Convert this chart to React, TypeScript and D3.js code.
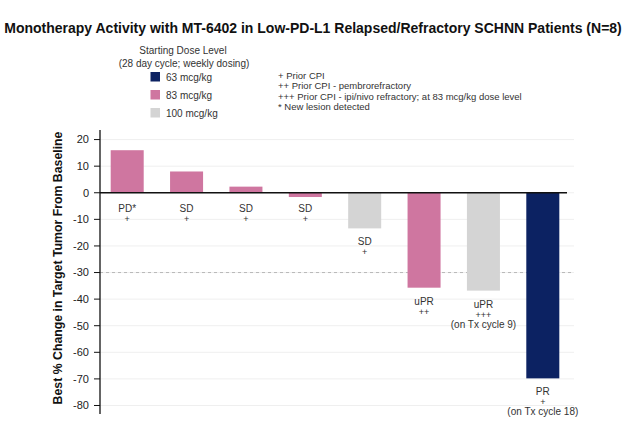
import React from 'react';
import * as d3 from 'd3';

// values
const patients = ['P1', 'P2', 'P3', 'P4', 'P5', 'P6', 'P7', 'P8'];
const bestChange = [16, 8, 2.3, -1.6, -13.4, -35.7, -36.8, -69.8];
const doseLevel = ['83 mcg/kg', '83 mcg/kg', '83 mcg/kg', '83 mcg/kg', '100 mcg/kg', '83 mcg/kg', '100 mcg/kg', '63 mcg/kg'];
const response = ['PD*', 'SD', 'SD', 'SD', 'SD', 'uPR', 'uPR', 'PR'];
const priorCpi = ['+', '+', '+', '+', '+', '++', '+++', '+'];
const cycleNote = ['', '', '', '', '', '', '(on Tx cycle 9)', '(on Tx cycle 18)'];

const yTicks = [20, 10, 0, -10, -20, -30, -40, -50, -60, -70, -80];
const threshold = -30;

const legendDoses = ['63 mcg/kg', '83 mcg/kg', '100 mcg/kg'];
const legendColors = ['#0c2262', '#cf76a0', '#d4d4d4'];
const footnotes = [
  '+ Prior CPI',
  '++ Prior CPI - pembrorefractory',
  '+++ Prior CPI - ipi/nivo refractory; at 83 mcg/kg dose level',
  '* New lesion detected',
];

const W = 624;
const H = 424;
const font = 'Arial, "Liberation Sans", sans-serif';

const App: React.FC = () => {
  const x = d3.scaleBand<string>()
    .domain(patients)
    .range([100, 570])
    .paddingInner(0.444)
    .paddingOuter(0.18);

  const y = d3.scaleLinear().domain([-83.2, 23.6]).range([414, 130]);

  const color = d3.scaleOrdinal<string, string>().domain(legendDoses).range(legendColors);

  const y0 = y(0);

  return (
    <div style={{ position: 'absolute', left: 0, top: 0 }}>
      <svg width={W} height={H} style={{ display: 'block', background: '#fff' }} fontFamily={font}>
        <text x={W / 2 + 1} y={33} textAnchor="middle" fontSize={14} fontWeight="bold" fill="#111">
          Monotherapy Activity with MT-6402 in Low-PD-L1 Relapsed/Refractory SCHNN Patients (N=8)
        </text>

        {/* legend */}
        <text x={183} y={54} textAnchor="middle" fontSize={10} fill="#333">Starting Dose Level</text>
        <text x={184} y={67} textAnchor="middle" fontSize={10} fill="#333">(28 day cycle; weekly dosing)</text>
        {legendDoses.map((d, i) => (
          <g key={d} transform={`translate(150.5, ${72 + i * 18})`}>
            <rect width={9.5} height={9.5} fill={color(d)} />
            <text x={15.5} y={8.5} fontSize={10} fill="#333">{d}</text>
          </g>
        ))}
        {footnotes.map((t, i) => (
          <text key={t} x={278} y={79 + i * 10.3} fontSize={9.5} fill="#333">{t}</text>
        ))}

        {/* grid */}
        {yTicks.map(t => (
          <line key={t} x1={100} x2={574} y1={y(t)} y2={y(t)} stroke="#efefef" strokeWidth={1} />
        ))}
        <line x1={100} x2={574} y1={y(threshold)} y2={y(threshold)} stroke="#aaa" strokeDasharray="3,3" strokeWidth={0.8} />

        {/* bars */}
        {patients.map((p, i) => {
          const v = bestChange[i];
          const top = Math.min(y(v), y0);
          const h = Math.abs(y(v) - y0);
          const cx = (x(p) ?? 0) + x.bandwidth() / 2;
          // labels sit under the zero line, or under the bar when it goes deeper
          const base = v < -5 ? y(v) + 17 : y0 + 19;
          const lines = [response[i], priorCpi[i], cycleNote[i]].filter(s => s);
          return (
            <g key={p}>
              <rect x={x(p)} y={top} width={x.bandwidth()} height={h} fill={color(doseLevel[i])} />
              {lines.map((s, j) => (
                <text key={j} x={cx} y={base + j * 10} textAnchor="middle" fontSize={s.startsWith('+') ? 9 : 10} fill="#333">
                  {s}
                </text>
              ))}
            </g>
          );
        })}

        <line x1={100} x2={567} y1={y0} y2={y0} stroke="#111" strokeWidth={1.3} />

        {/* y axis */}
        <line x1={100} x2={100} y1={130} y2={414} stroke="#111" strokeWidth={1.3} />
        {yTicks.map(t => (
          <g key={t} transform={`translate(0, ${y(t)})`}>
            <line x1={94} x2={100} stroke="#111" strokeWidth={1} />
            <text x={89} dy="0.35em" textAnchor="end" fontSize={11} fill="#222">{t}</text>
          </g>
        ))}
        <text
          transform={`translate(61.5, 268) rotate(-90)`}
          textAnchor="middle"
          fontSize={12.3}
          fontWeight="bold"
          fill="#111"
        >
          Best % Change in Target Tumor From Baseline
        </text>
      </svg>
    </div>
  );
};

export default App;
